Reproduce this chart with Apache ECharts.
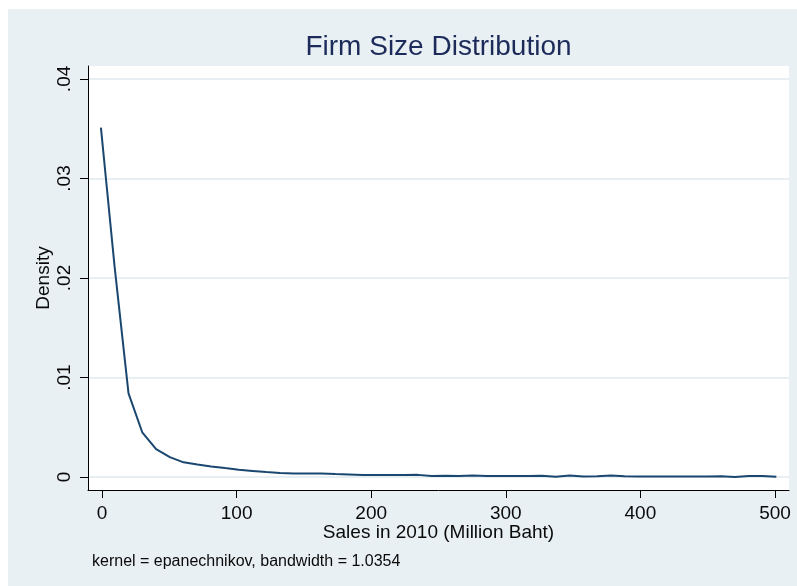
<!DOCTYPE html>
<html>
<head>
<meta charset="utf-8">
<title>Firm Size Distribution</title>
<script src="https://cdn.jsdelivr.net/npm/echarts@6/dist/echarts.min.js"></script>
<style>
  html, body { margin: 0; padding: 0; background: #ffffff; }
  #chart { width: 797px; height: 586px; }
</style>
</head>
<body>
<div id="chart"></div>
<script>
// Kernel density estimate of 2010 sales (million baht), evaluated on a 50-point grid
const salesGrid = [
  -0.8, 9.4, 19.7, 29.9, 40.2, 50.4, 60.6, 70.9, 81.1, 91.4,
  101.6, 111.8, 122.1, 132.3, 142.6, 152.8, 163.0, 173.3, 183.5, 193.8,
  204.0, 214.2, 224.5, 234.7, 245.0, 255.2, 265.4, 275.7, 285.9, 296.2,
  306.4, 316.6, 326.9, 337.1, 347.4, 357.6, 367.8, 378.1, 388.3, 398.6,
  408.8, 419.0, 429.3, 439.5, 449.8, 460.0, 470.2, 480.5, 490.7, 501.0
];
const densityValues = [
  0.0351, 0.0211, 0.0084, 0.0045, 0.0028, 0.0020, 0.00148, 0.00127, 0.00107, 0.0009,
  0.00074, 0.00062, 0.0005, 0.00042, 0.00037, 0.00037, 0.00036, 0.0003, 0.00025, 0.0002,
  0.0002, 0.0002, 0.0002, 0.00022, 0.0001, 0.00013, 0.0001, 0.00016, 0.0001, 0.0001,
  0.0001, 0.0001, 0.00012, 0.00004, 0.00016, 0.00005, 0.00007, 0.00016, 0.00007, 0.00005,
  0.00005, 0.00005, 0.00005, 0.00005, 0.00005, 0.00007, 0.00001, 0.0001, 0.0001, 0.00002
];
const xTicks = [0, 100, 200, 300, 400, 500];
const yTicks = [0, 0.01, 0.02, 0.03, 0.04];

const titleText = 'Firm Size Distribution';
const xName = 'Sales in 2010 (Million Baht)';
const yName = 'Density';
const noteText = 'kernel = epanechnikov, bandwidth = 1.0354';

const FONT = '"Liberation Sans", Arial, Helvetica, sans-serif';
const chart = echarts.init(document.getElementById('chart'), null, { renderer: 'canvas' });

const points = salesGrid.map((x, i) => [x, densityValues[i]]);

chart.setOption({
  backgroundColor: '#ffffff',
  animation: false,
  graphic: [
    {
      type: 'rect', z: -10, silent: true,
      shape: { x: 8, y: 9, width: 789, height: 577 },
      style: { fill: '#e9f0f3' }
    },
    {
      type: 'text', z: 10, silent: true,
      x: 438.5, y: 47,
      style: {
        text: titleText, fill: '#1c2b5a',
        font: '28px ' + FONT, align: 'center', verticalAlign: 'middle'
      }
    },
    {
      type: 'text', z: 10, silent: true,
      x: 92, y: 561.5,
      style: {
        text: noteText, fill: '#0a0a0a',
        font: '16px ' + FONT, align: 'left', verticalAlign: 'middle'
      }
    }
  ],
  grid: {
    left: 88, right: 8, top: 66, bottom: 96,
    show: true, backgroundColor: '#ffffff', borderWidth: 0,
    containLabel: false
  },
  xAxis: {
    type: 'value',
    min: -10.4, max: 510.4,
    name: xName,
    nameLocation: 'middle',
    nameGap: 33,
    nameMoveOverlap: false,
    nameTextStyle: { fontFamily: FONT, fontSize: 19, color: '#0a0a0a' },
    axisLine: { show: true, onZero: false, lineStyle: { color: '#000000', width: 1 } },
    axisTick: { show: true, length: 8, customValues: xTicks, lineStyle: { color: '#000000', width: 1 } },
    axisLabel: {
      customValues: xTicks, margin: 14,
      fontFamily: FONT, fontSize: 19, color: '#0a0a0a'
    },
    splitLine: { show: false }
  },
  yAxis: {
    type: 'value',
    min: -0.0013, max: 0.0413,
    name: yName,
    nameLocation: 'middle',
    nameGap: 35,
    nameRotate: 90,
    nameMoveOverlap: false,
    nameTextStyle: { fontFamily: FONT, fontSize: 19, color: '#0a0a0a' },
    axisLine: { show: true, onZero: false, lineStyle: { color: '#000000', width: 1 } },
    axisTick: { show: true, length: 8, customValues: yTicks, lineStyle: { color: '#000000', width: 1 } },
    axisLabel: {
      customValues: yTicks, margin: 14, rotate: 90,
      fontFamily: FONT, fontSize: 19, color: '#0a0a0a',
      formatter: v => (v === 0 ? '0' : String(+v.toFixed(4)).replace(/^0\./, '.'))
    },
    splitLine: { show: true, lineStyle: { color: '#e8eff2', width: 2 } }
  },
  series: [{
    type: 'line',
    data: points,
    showSymbol: false,
    smooth: false,
    lineStyle: { color: '#1a476f', width: 2 },
    itemStyle: { color: '#1a476f' }
  }]
});
</script>
</body>
</html>
